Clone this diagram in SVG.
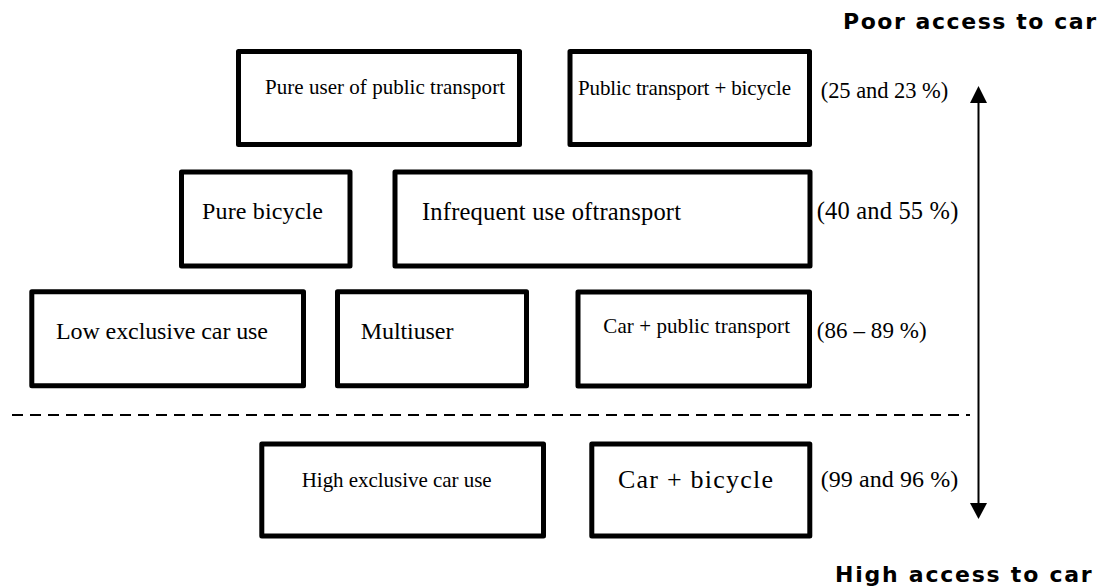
<svg xmlns="http://www.w3.org/2000/svg" width="1105" height="587" viewBox="0 0 1105 587">
  <style>
    .box rect { fill: #ffffff; stroke: #000000; stroke-width: 5; stroke-linejoin: round; }
    .lbl { font-family: "Liberation Serif", "Times New Roman", serif; fill: #000000; }
    .pct { font-family: "Liberation Serif", "Times New Roman", serif; fill: #000000; }
    .axis { font-family: "Comic Sans MS", "DejaVu Sans", sans-serif; font-weight: bold; font-size: 22px; fill: #000000; }
    .conn { stroke: #000000; stroke-width: 2; fill: none; }
    .head { fill: #000000; stroke: none; }
  </style>

  <rect width="1105" height="587" fill="#ffffff"/>

  <!-- row 1: poorest access to car -->
  <g id="pure-public" class="box">
    <rect x="238.5" y="51.5" width="281" height="93"/>
    <text class="lbl" x="265" y="94" font-size="21" textLength="240">Pure user of public transport</text>
  </g>
  <g id="public-bicycle" class="box">
    <rect x="570" y="51.5" width="239.5" height="93"/>
    <text class="lbl" x="578" y="95" font-size="21" textLength="213">Public transport + bicycle</text>
  </g>

  <!-- row 2 -->
  <g id="pure-bicycle" class="box">
    <rect x="181.5" y="172" width="168.5" height="94"/>
    <text class="lbl" x="202" y="218.5" font-size="24" textLength="121">Pure bicycle</text>
  </g>
  <g id="infrequent" class="box">
    <rect x="395" y="172" width="415" height="94"/>
    <text class="lbl" x="422" y="219.5" font-size="24.5" textLength="259">Infrequent use oftransport</text>
  </g>

  <!-- row 3 -->
  <g id="low-exclusive-car" class="box">
    <rect x="31.8" y="291.8" width="271.7" height="94"/>
    <text class="lbl" x="56" y="339.3" font-size="24" textLength="212">Low exclusive car use</text>
  </g>
  <g id="multiuser" class="box">
    <rect x="337.5" y="291.8" width="189" height="94"/>
    <text class="lbl" x="360.7" y="339.3" font-size="24" textLength="92.7">Multiuser</text>
  </g>
  <g id="car-public" class="box">
    <rect x="578" y="292" width="231.5" height="94"/>
    <text class="lbl" x="603.3" y="333.3" font-size="21" textLength="186.7">Car + public transport</text>
  </g>

  <!-- row 4: highest access to car -->
  <g id="high-exclusive-car" class="box">
    <rect x="261.8" y="444" width="281.7" height="92"/>
    <text class="lbl" x="301.7" y="487.3" font-size="21" textLength="190">High exclusive car use</text>
  </g>
  <g id="car-bicycle" class="box">
    <rect x="591.8" y="444" width="218" height="92"/>
    <text class="lbl" x="618" y="488" font-size="26" textLength="155">Car + bicycle</text>
  </g>

  <!-- share of car access per row -->
  <g id="shares">
    <text class="pct" x="820.7" y="98.3" font-size="22.5" textLength="127.6">(25 and 23 %)</text>
    <text class="pct" x="816.7" y="219.3" font-size="24.5" textLength="141.6">(40 and 55 %)</text>
    <text class="pct" x="816.7" y="338.3" font-size="23" textLength="110">(86 – 89 %)</text>
    <text class="pct" x="820.7" y="487.3" font-size="24" textLength="137.6">(99 and 96 %)</text>
  </g>

  <!-- scale ends -->
  <g id="axis-labels">
    <text class="axis" x="843" y="29" textLength="253">Poor access to car</text>
    <text class="axis" x="835" y="582" textLength="256.7">High access to car</text>
  </g>

  <g id="connectors">
    <line class="conn" x1="12" y1="415" x2="970" y2="415" stroke-dasharray="11 7"/>
    <line class="conn" x1="978.5" y1="100" x2="978.5" y2="506"/>
    <path class="head" d="M978.5,86 L987,103 L970,103 Z"/>
    <path class="head" d="M978.5,519 L987,503 L970,503 Z"/>
  </g>
</svg>
